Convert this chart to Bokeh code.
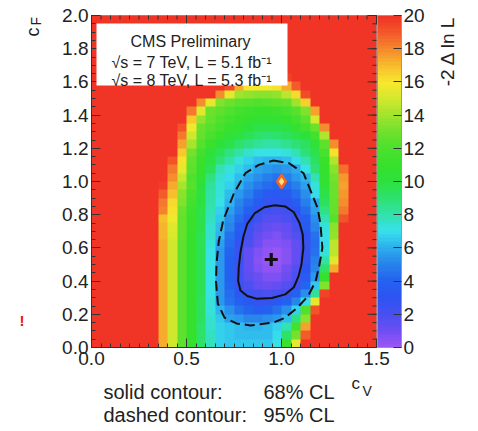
import numpy as np
from math import pi
from bokeh.plotting import figure
from bokeh.models import (LinearColorMapper, ColorBar, FixedTicker, SingleIntervalTicker,
                          PrintfTickFormatter, Label, BoxAnnotation, Range1d)
from bokeh.embed import file_html
from bokeh.resources import INLINE

# ---------------- data ----------------
cv_min, cv_max = 0.0, 1.5
cf_min, cf_max = 0.0, 2.0

# -2 Delta ln L, cells of 0.05 x 0.05; row 0 is the bottom (cF = 0.00-0.05), col 0 is cV = 0.00-0.05
nll_rows = [
    [20,20,20,20,20,20,20,17.3,14.8,12.5,10.8,9.2,7.7,6.6,6.5,6.4,6.4,6.4,6.5,7.0,11.1,15.5,20,20,20,20,20,20,20,20],
    [20,20,20,20,20,20,20,17.3,14.8,12.5,10.8,9.2,7.7,6.6,6.4,6.3,6.2,6.2,6.3,6.8,9.1,13.0,18.9,20,20,20,20,20,20,20],
    [20,20,20,20,20,20,20,17.3,14.8,12.5,10.8,9.2,7.5,6.7,6.4,6.25,6.1,6.1,6.3,6.6,7.8,11.5,17.4,20,20,20,20,20,20,20],
    [20,20,20,20,20,20,20,17.3,14.8,12.5,10.8,9.3,7.4,6.5,5.8,5.4,5.1,5.0,5.2,5.6,6.2,8.7,13.5,20,20,20,20,20,20,20],
    [20,20,20,20,20,20,20,17.3,14.8,12.5,10.8,9.3,7.3,6.1,5.3,4.5,4.0,3.75,3.9,4.4,5.2,6.6,12.0,19.0,20,20,20,20,20,20],
    [20,20,20,20,20,20,20,17.3,14.8,12.5,10.8,9.3,7.3,5.6,4.6,3.8,3.2,2.8,2.8,3.2,3.9,5.0,6.9,15.5,20,20,20,20,20,20],
    [20,20,20,20,20,20,20,17.3,14.8,12.5,10.8,9.4,7.1,5.6,4.3,3.3,2.25,2.0,1.85,2.0,2.3,3.8,5.3,8.3,19.5,20,20,20,20,20],
    [20,20,20,20,20,20,20,17.3,14.8,12.5,10.8,9.4,7.0,5.4,4.0,2.5,1.9,1.4,1.15,1.3,1.7,2.3,4.0,6.4,13.3,20,20,20,20,20],
    [20,20,20,20,20,20,20,17.3,14.8,12.5,10.8,9.4,7.0,5.4,3.9,2.3,1.5,1.0,0.6,0.7,1.1,1.8,3.4,5.6,10.8,20,20,20,20,20],
    [20,20,20,20,20,20,20,17.3,14.8,12.5,10.8,9.4,7.0,5.4,3.9,2.3,1.3,0.7,0.25,0.35,0.8,1.6,3.0,5.1,9.0,17.2,20,20,20,20],
    [20,20,20,20,20,20,20,17.3,14.8,12.5,10.8,9.4,7.1,5.4,3.9,2.4,1.2,0.55,0.1,0.1,0.5,1.3,2.6,4.8,8.1,15.2,20,20,20,20],
    [20,20,20,20,20,20,20,17.3,14.8,12.5,10.8,9.4,7.1,5.4,4.0,2.5,1.4,0.75,0.25,0.15,0.5,1.3,2.5,4.4,7.2,14.5,20,20,20,20],
    [20,20,20,20,20,20,20,17.2,14.9,12.5,10.8,9.5,7.3,5.8,4.3,2.8,1.8,1.1,0.55,0.4,0.7,1.4,2.45,4.2,6.9,14.5,20,20,20,20],
    [20,20,20,20,20,20,20,17.1,15.0,12.6,10.9,9.5,7.4,6.0,4.6,3.3,2.1,1.4,0.9,0.7,1.0,1.75,2.9,4.6,7.0,13.7,20,20,20,20],
    [20,20,20,20,20,20,20,17.0,15.3,12.7,11.0,9.6,7.5,6.25,5.0,3.7,2.4,1.7,1.25,1.05,1.4,2.1,3.4,5.0,7.3,13.4,20,20,20,20],
    [20,20,20,20,20,20,20,16.9,15.6,12.7,11.1,9.6,7.7,6.45,5.3,4.2,3.0,2.2,1.75,1.6,1.85,2.3,3.7,5.3,7.8,12.3,19.0,20,20,20],
    [20,20,20,20,20,20,20,18.0,16.0,12.9,11.3,9.6,7.8,6.7,5.7,4.7,3.8,2.8,2.2,2.05,2.2,3.0,4.2,5.7,8.6,12.6,18.2,20,20,20],
    [20,20,20,20,20,20,20,18.4,16.3,13.2,11.5,9.8,8.0,7.0,6.05,5.1,4.2,3.4,2.8,2.6,2.9,3.6,4.8,5.95,9.3,12.6,17.9,20,20,20],
    [20,20,20,20,20,20,20,18.9,16.8,13.5,11.8,9.9,8.1,7.2,6.3,5.6,4.8,4.1,3.5,3.25,3.5,4.3,5.3,6.8,9.6,12.8,17.7,20,20,20],
    [20,20,20,20,20,20,20,19.6,17.3,14.1,12.2,10.1,8.3,7.3,6.6,6.0,5.3,4.7,4.2,4.0,4.3,4.9,5.7,7.3,10.2,12.8,17.4,20,20,20],
    [20,20,20,20,20,20,20,20,17.8,14.7,12.0,10.4,8.7,7.4,6.8,6.2,5.7,5.2,4.8,4.6,4.8,5.4,6.0,7.8,10.5,13.0,17.7,20,20,20],
    [20,20,20,20,20,20,20,20,18.4,15.4,12.4,10.8,9.4,7.9,7.2,6.7,6.2,5.8,5.5,5.3,5.4,5.9,7.1,8.8,10.8,13.4,18.5,20,20,20],
    [20,20,20,20,20,20,20,20,19.1,16.0,12.7,11.0,9.9,8.9,8.0,7.3,6.6,6.3,6.05,6.0,6.2,6.8,7.9,9.3,11.2,14.3,20,20,20,20],
    [20,20,20,20,20,20,20,20,20,16.6,13.0,11.4,10.1,9.4,8.7,8.1,7.45,7.1,7.0,7.0,7.2,7.8,8.8,9.7,11.8,16.0,20,20,20,20],
    [20,20,20,20,20,20,20,20,20,17.5,14.0,12.25,11.2,10.1,9.6,9.05,8.6,8.2,8.05,8.1,8.4,8.8,9.35,10.2,12.4,17.8,20,20,20,20],
    [20,20,20,20,20,20,20,20,20,18.2,14.9,12.6,11.8,11.0,10.2,9.8,9.4,9.1,8.9,9.0,9.3,9.6,10.0,11.6,14.2,20,20,20,20,20],
    [20,20,20,20,20,20,20,20,20,19.0,15.7,12.9,12.3,11.7,11.1,10.6,10.0,9.7,9.6,9.7,9.9,10.6,11.7,12.9,17.8,20,20,20,20,20],
    [20,20,20,20,20,20,20,20,20,20,16.6,13.6,12.6,12.0,11.5,11.1,10.8,10.5,10.4,10.5,10.8,11.5,12.4,15.0,20,20,20,20,20,20],
    [20,20,20,20,20,20,20,20,20,20,18.3,15.3,12.9,12.4,12.0,11.6,11.3,11.15,11.1,11.3,11.7,12.2,13.3,17.4,20,20,20,20,20,20],
    [20,20,20,20,20,20,20,20,20,20,20,17.8,15.4,13.2,12.8,12.5,12.3,12.1,12.2,12.4,12.7,13.8,16.4,20,20,20,20,20,20,20],
    [20,20,20,20,20,20,20,20,20,20,20,20,20,17.8,15.4,13.9,13.6,13.5,13.5,13.7,14.5,16.3,19.2,20,20,20,20,20,20,20],
    [20,20,20,20,20,20,20,20,20,20,20,20,20,20,19.3,17.3,15.9,15.8,15.9,16.0,17.2,18.8,20,20,20,20,20,20,20,20],
    [20,20,20,20,20,20,20,20,20,20,20,20,20,20,20,19.5,18.5,18.0,18.0,18.5,19.5,20,20,20,20,20,20,20,20,20],
    [20,20,20,20,20,20,20,20,20,20,20,20,20,20,20,20,20,20,20,20,20,20,20,20,20,20,20,20,20,20],
    [20,20,20,20,20,20,20,20,20,20,20,20,20,20,20,20,20,20,20,20,20,20,20,20,20,20,20,20,20,20],
    [20,20,20,20,20,20,20,20,20,20,20,20,20,20,20,20,20,20,20,20,20,20,20,20,20,20,20,20,20,20],
    [20,20,20,20,20,20,20,20,20,20,20,20,20,20,20,20,20,20,20,20,20,20,20,20,20,20,20,20,20,20],
    [20,20,20,20,20,20,20,20,20,20,20,20,20,20,20,20,20,20,20,20,20,20,20,20,20,20,20,20,20,20],
    [20,20,20,20,20,20,20,20,20,20,20,20,20,20,20,20,20,20,20,20,20,20,20,20,20,20,20,20,20,20],
    [20,20,20,20,20,20,20,20,20,20,20,20,20,20,20,20,20,20,20,20,20,20,20,20,20,20,20,20,20,20],
]

# 68% CL (solid) contour
solid_cv = [0.965,1.02,1.065,1.095,1.112,1.115,1.105,1.09,1.065,1.02,0.95,0.872,0.82,0.784,0.772,0.775,0.785,0.80,0.82,0.86,0.91,0.965]
solid_cf = [0.857,0.85,0.815,0.75,0.68,0.60,0.50,0.43,0.363,0.32,0.298,0.293,0.31,0.343,0.40,0.484,0.58,0.67,0.745,0.81,0.845,0.857]
# 95% CL (dashed) contour
dashed_cv = [0.958,1.04,1.116,1.153,1.19,1.205,1.215,1.20,1.18,1.14,1.084,1.02,0.958,0.837,0.763,0.70,0.665,0.655,0.658,0.67,0.693,0.75,0.81,0.88,0.958]
dashed_cf = [1.127,1.11,1.05,0.945,0.84,0.745,0.60,0.50,0.40,0.31,0.24,0.18,0.15,0.133,0.145,0.18,0.265,0.40,0.506,0.64,0.765,0.93,1.05,1.10,1.127]

best_fit_cv = [0.946]
best_fit_cf = [0.53]
sm_cv = [1.0]
sm_cf = [1.0]

z_low, z_high = 0, 20
z_ticks = [0, 2, 4, 6, 8, 10, 12, 14, 16, 18, 20]

# ROOT-like rainbow palette, one colour per unit of -2 Delta ln L
palette_stops = ["#9a55f5", "#6a4ef2", "#4450f0", "#2c54f2", "#2464f0", "#2884eb",
                 "#2db0ef", "#37e1eb", "#32e1aa", "#2de16e", "#2de13c", "#37e12d",
                 "#4be12d", "#6ee12d", "#a0e42d", "#d2e82d", "#f8e82d", "#f8be2d",
                 "#f58c2d", "#f35a2a", "#f03426"]

# ---------------- build ----------------
grid = np.array(nll_rows, dtype=float)

def h2r(h):
    return [int(h[i:i + 2], 16) for i in (1, 3, 5)]

stops = np.array([h2r(c) for c in palette_stops], dtype=float)
spos = np.linspace(0, 1, len(stops))
tt = np.linspace(0, 1, 100)
pal = ["#%02x%02x%02x" % tuple(int(round(np.interp(t, spos, stops[:, k]))) for k in range(3)) for t in tt]
mapper = LinearColorMapper(palette=pal, low=z_low, high=z_high)

FONT = "Liberation Sans"
TXT = "#222222"
W, H = 478, 431            # canvas starts at the page's top-left corner
PX0, PX1 = 91, 376         # pixels of the data area (cV 0..1.5)
PY0, PY1 = 347, 15         # pixels of the data area (cF 0..2)
DX = (cv_max - cv_min) / (PX1 - PX0)
DY = (cf_max - cf_min) / (PY0 - PY1)

def xd(px):  # pixel -> data
    return cv_min + (px - PX0) * DX

def yd(py):
    return cf_min + (PY0 - py) * DY

p = figure(width=W, height=H, x_range=Range1d(xd(0), xd(W)), y_range=Range1d(yd(H), yd(0)),
           output_backend="svg", toolbar_location=None,
           min_border_left=0, min_border_right=0, min_border_top=0, min_border_bottom=0)
p.background_fill_color = "white"
p.border_fill_color = "white"
p.outline_line_color = None
p.xgrid.visible = False
p.ygrid.visible = False

p.image(image=[grid], x=cv_min, y=cf_min, dw=cv_max - cv_min, dh=cf_max - cf_min, color_mapper=mapper)

# contours and markers
p.line(dashed_cv, dashed_cf, line_color="#111111", line_width=2, line_dash="10 5")
p.line(solid_cv, solid_cf, line_color="#111111", line_width=2)
p.scatter(best_fit_cv, best_fit_cf, marker="cross", size=13, line_width=3.2, line_color="#111111")
p.scatter(sm_cv, sm_cf, marker="diamond", size=13, fill_color="#ffe27a", line_color="#f26522", line_width=2.5)

# axes (ticks inside, ROOT style), pinned to the data area
p.xaxis.ticker = SingleIntervalTicker(interval=0.5, num_minor_ticks=10)
p.yaxis.ticker = SingleIntervalTicker(interval=0.2, num_minor_ticks=4)
p.xaxis.fixed_location = cf_min
p.yaxis.fixed_location = cv_min
p.xaxis.bounds = (cv_min, cv_max)
p.yaxis.bounds = (cf_min, cf_max)
for ax in (p.xaxis[0], p.yaxis[0]):
    ax.formatter = PrintfTickFormatter(format="%.1f")
    ax.major_tick_in = 9
    ax.major_tick_out = 0
    ax.minor_tick_in = 4
    ax.minor_tick_out = 0
    ax.major_tick_line_color = "#333333"
    ax.minor_tick_line_color = "#333333"
    ax.axis_line_color = "#333333"
    ax.major_label_text_font = FONT
    ax.major_label_text_font_size = "19px"
    ax.major_label_text_color = TXT
p.xaxis.major_label_standoff = 4
p.yaxis.major_label_standoff = 3

# mirrored ticks on top and right edges
xmaj = np.arange(0, 4) * 0.5
xmin = np.arange(0, 31) * 0.05
ymaj = np.arange(0, 11) * 0.2
ymin = np.arange(0, 41) * 0.05
p.segment(x0=xmaj, x1=xmaj, y0=cf_max, y1=cf_max - 9 * DY, line_color="#333333", line_width=1)
p.segment(x0=xmin, x1=xmin, y0=cf_max, y1=cf_max - 4 * DY, line_color="#333333", line_width=1)
p.segment(x0=cv_max, x1=cv_max - 9 * DX, y0=ymaj, y1=ymaj, line_color="#333333", line_width=1)
p.segment(x0=cv_max, x1=cv_max - 4 * DX, y0=ymin, y1=ymin, line_color="#333333", line_width=1)

# legend box
p.add_layout(BoxAnnotation(left=xd(96), right=xd(287), top=yd(23), bottom=yd(85),
                           fill_color="white", fill_alpha=1.0, line_color=None))
# frame of the data area
p.add_layout(BoxAnnotation(left=cv_min, right=cv_max, top=cf_max, bottom=cf_min,
                           fill_alpha=0, line_color="#333333", line_width=1))

# colour bar (x 377..401, same height as the data area)
cb = ColorBar(color_mapper=mapper, ticker=FixedTicker(ticks=z_ticks), width=24, height=PY0 - PY1,
              padding=0, location=(377, H - PY0),
              major_label_text_font=FONT, major_label_text_font_size="19px",
              major_label_text_color=TXT, label_standoff=2,
              major_tick_in=8, major_tick_out=0, major_tick_line_color="#333333",
              minor_tick_line_color=None, bar_line_color="#999999",
              border_line_color=None, background_fill_alpha=0)
p.add_layout(cb)

def lab(px, py, text, size, align="left", baseline="alphabetic", angle=0, color=TXT, style="normal"):
    p.add_layout(Label(x=xd(px), y=yd(py), text=text, text_font=FONT, text_font_size=size,
                       text_align=align, text_baseline=baseline, angle=angle,
                       text_color=color, text_font_style=style))

lab(190, 41, "CMS Preliminary", "16px", align="center")
lab(111, 62, "\u221as = 7 TeV, L = 5.1 fb\u207b\u00b9", "16px")
lab(111, 80, "\u221as = 8 TeV, L = 5.3 fb\u207b\u00b9", "16px")

# axis titles
lab(351, 383, "c", "17px")
lab(362, 390, "V", "14px")
lab(32, 36, "c", "18px", angle=pi / 2)
lab(35, 25, "F", "14px", angle=pi / 2)
lab(447, 15, "-2 \u0394 ln L", "19px", align="right", angle=pi / 2)

# notes
lab(103, 391, "solid contour:", "20px")
lab(263, 391, "68% CL", "20px")
lab(103, 414, "dashed contour:", "20px")
lab(263, 414, "95% CL", "20px")

lab(19, 320, "!", "15px", color="#ee1111", style="bold")

open("out.html", "w").write(file_html(p, INLINE))
